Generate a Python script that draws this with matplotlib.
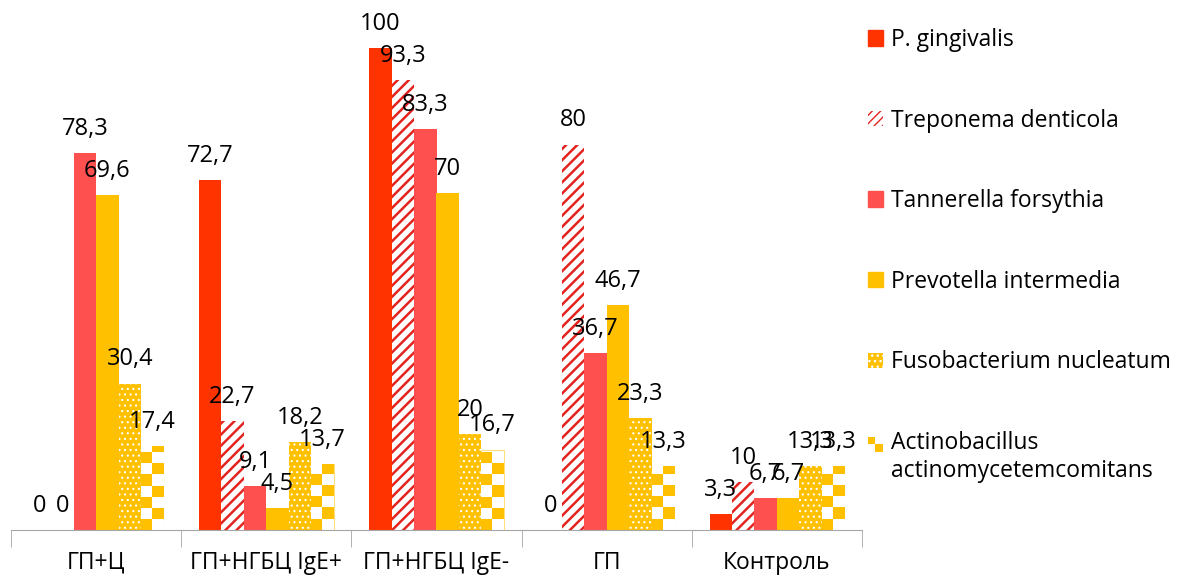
import numpy as np
import matplotlib
matplotlib.use("Agg")
import matplotlib.pyplot as plt
from matplotlib.patches import Patch, Rectangle
from matplotlib.legend_handler import HandlerBase

plt.rcParams['font.family'] = ['Open Sans', 'DejaVu Sans']

groups = ['ГП+Ц', 'ГП+НГБЦ IgE+', 'ГП+НГБЦ IgE-', 'ГП', 'Контроль']
species = ['P. gingivalis', 'Treponema denticola', 'Tannerella forsythia',
           'Prevotella intermedia', 'Fusobacterium nucleatum',
           'Actinobacillus\nactinomycetemcomitans']
p_gingivalis = [0, 72.7, 100, 0, 3.3]
t_denticola = [0, 22.7, 93.3, 80, 10]
t_forsythia = [78.3, 9.1, 83.3, 36.7, 6.7]
p_intermedia = [69.6, 4.5, 70, 46.7, 6.7]
f_nucleatum = [30.4, 18.2, 20, 23.3, 13.3]
a_actino = [17.4, 13.7, 16.7, 13.3, 13.3]
series = [p_gingivalis, t_denticola, t_forsythia, p_intermedia, f_nucleatum, a_actino]

RED = '#FF3300'
STRIPE = '#E3231F'
PINK = '#FF5050'
GOLD = '#FFC000'
FS = 16.5

fig = plt.figure(figsize=(11.81, 5.76), dpi=100)
ax = fig.add_axes([11 / 1181, 46 / 576, 851 / 1181, 530 / 576])

x = np.arange(len(groups))
w = 0.132


def fmt(v):
    return ('%g' % v).replace('.', ',')


for i, vals in enumerate(series):
    pos = x + (i - 2.5) * w
    if i == 0:
        bars = ax.bar(pos, vals, w, color=RED, linewidth=0)
    elif i == 1:
        with plt.rc_context({'hatch.linewidth': 1.8}):
            bars = ax.bar(pos, vals, w, facecolor='white', edgecolor=STRIPE,
                          hatch='///', linewidth=0)
    elif i == 2:
        bars = ax.bar(pos, vals, w, color=PINK, linewidth=0)
    elif i == 3:
        bars = ax.bar(pos, vals, w, color=GOLD, linewidth=0)
    elif i == 4:
        with plt.rc_context({'hatch.linewidth': 0.8}):
            bars = ax.bar(pos, vals, w, facecolor=GOLD, edgecolor='white',
                          hatch='...', linewidth=0)
    else:
        bars = ax.bar(pos, vals, w, facecolor='white', edgecolor='#FFE07A',
                      linewidth=0.8)
        # checkerboard fill clipped to each bar
        for b, v in zip(bars, vals):
            nrow = max(1, int(round(v / 2.3)))
            chk = (np.add.outer(np.arange(nrow), np.arange(2)) % 2)[::-1]
            cmap = matplotlib.colors.ListedColormap([GOLD, 'white'])
            im = ax.imshow(chk, cmap=cmap, aspect='auto', interpolation='nearest',
                           extent=(b.get_x(), b.get_x() + w, 0, nrow * 2.3),
                           origin='upper', zorder=1.5)
            im.set_clip_path(b)
    for b, v in zip(bars, vals):
        ax.annotate(fmt(v), (b.get_x() + w / 2, v), xytext=(0, 13),
                    textcoords='offset points', ha='center', va='baseline',
                    fontsize=17)

ax.set_xlim(-0.5, len(groups) - 0.5)
ax.set_ylim(0, 110)
ax.set_yticks([])
for s in ['left', 'right', 'top']:
    ax.spines[s].set_visible(False)
ax.spines['bottom'].set_color('#A6A6A6')
ax.set_xticks(x)
ax.set_xticklabels(groups, fontsize=FS)
ax.tick_params(axis='x', which='major', length=0, pad=15)
ax.set_xticks(np.arange(-0.5, len(groups)), minor=True)
ax.tick_params(axis='x', which='minor', length=12, color='#A6A6A6')


class CheckerHandler(HandlerBase):
    # two gold squares on the diagonal, lined up with the first text line
    def create_artists(self, legend, orig, xd, yd, width, height, fontsize, trans):
        hw, hh = width / 2, height / 2
        y0 = yd + fontsize * 0.62
        r1 = Rectangle((xd, y0 + hh), hw, hh, facecolor=GOLD, linewidth=0, transform=trans)
        r2 = Rectangle((xd + hw, y0), hw, hh, facecolor=GOLD, linewidth=0, transform=trans)
        return [r1, r2]


class CheckerPatch(Patch):
    pass


with plt.rc_context({'hatch.linewidth': 1.6}):
    h_stripe = Patch(facecolor='white', edgecolor=STRIPE, hatch='////', linewidth=0)
with plt.rc_context({'hatch.linewidth': 0.8}):
    h_dots = Patch(facecolor=GOLD, edgecolor='white', hatch='...', linewidth=0)
handles = [Patch(color=RED), h_stripe, Patch(color=PINK), Patch(color=GOLD),
           h_dots, CheckerPatch()]

fig.legend(handles, species, loc='upper left',
           bbox_to_anchor=(845 / 1181, 1 - 5 / 576),
           frameon=False, fontsize=FS, handlelength=0.65, handleheight=0.65,
           handletextpad=0.35, labelspacing=2.47, borderaxespad=0.0,
           borderpad=1.0, handler_map={CheckerPatch: CheckerHandler()})

fig.savefig('out.png', dpi=100)
